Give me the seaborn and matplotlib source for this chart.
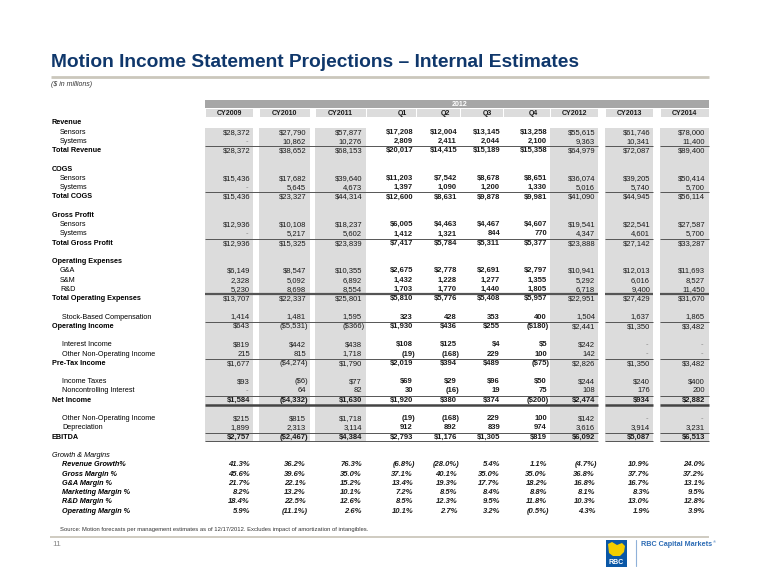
import matplotlib
matplotlib.use("Agg")
import matplotlib.pyplot as plt
from matplotlib.patches import Rectangle, Polygon
import seaborn as sns
import pandas as pd

# Column headers
columns = ["CY2009", "CY2010", "CY2011", "Q1", "Q2", "Q3", "Q4", "CY2012", "CY2013", "CY2014"]
year_group = "2012"

# Income statement values ($ in millions), None = "-"
rev_sensors = [28372, 27790, 57877, 17208, 12004, 13145, 13258, 55615, 61746, 78000]
rev_systems = [None, 10862, 10276, 2809, 2411, 2044, 2100, 9363, 10341, 11400]
rev_total = [28372, 38652, 68153, 20017, 14415, 15189, 15358, 64979, 72087, 89400]
cogs_sensors = [15436, 17682, 39640, 11203, 7542, 8678, 8651, 36074, 39205, 50414]
cogs_systems = [None, 5645, 4673, 1397, 1090, 1200, 1330, 5016, 5740, 5700]
cogs_total = [15436, 23327, 44314, 12600, 8631, 9878, 9981, 41090, 44945, 56114]
gp_sensors = [12936, 10108, 18237, 6005, 4463, 4467, 4607, 19541, 22541, 27587]
gp_systems = [None, 5217, 5602, 1412, 1321, 844, 770, 4347, 4601, 5700]
gp_total = [12936, 15325, 23839, 7417, 5784, 5311, 5377, 23888, 27142, 33287]
opex_ga = [6149, 8547, 10355, 2675, 2778, 2691, 2797, 10941, 12013, 11693]
opex_sm = [2328, 5092, 6892, 1432, 1228, 1277, 1355, 5292, 6016, 8527]
opex_rd = [5230, 8698, 8554, 1703, 1770, 1440, 1805, 6718, 9400, 11450]
opex_total = [13707, 22337, 25801, 5810, 5776, 5408, 5957, 22951, 27429, 31670]
stock_comp = [1414, 1481, 1595, 323, 428, 353, 400, 1504, 1637, 1865]
op_income = [643, -5531, -366, 1930, 436, 255, -180, 2441, 1350, 3482]
interest_income = [819, 442, 438, 108, 125, 4, 5, 242, None, None]
other_nonop = [215, 815, 1718, -19, -168, 229, 100, 142, None, None]
pretax_income = [1677, -4274, 1790, 2019, 394, 489, -75, 2826, 1350, 3482]
income_taxes = [93, -6, 77, 69, 29, 96, 50, 244, 240, 400]
noncontrolling = [None, 64, 82, 30, -16, 19, 75, 108, 176, 200]
net_income = [1584, -4332, 1630, 1920, 380, 374, -200, 2474, 934, 2882]
depreciation = [1899, 2313, 3114, 912, 892, 839, 974, 3616, 3914, 3231]
ebitda = [2757, -2467, 4384, 2793, 1176, 1305, 819, 6092, 5087, 6513]

# Growth & margins (%)
revenue_growth = [41.3, 36.2, 76.3, -6.8, -28.0, 5.4, 1.1, -4.7, 10.9, 24.0]
gross_margin = [45.6, 39.6, 35.0, 37.1, 40.1, 35.0, 35.0, 36.8, 37.7, 37.2]
ga_margin = [21.7, 22.1, 15.2, 13.4, 19.3, 17.7, 18.2, 16.8, 16.7, 13.1]
mkt_margin = [8.2, 13.2, 10.1, 7.2, 8.5, 8.4, 8.8, 8.1, 8.3, 9.5]
rd_margin = [18.4, 22.5, 12.6, 8.5, 12.3, 9.5, 11.8, 10.3, 13.0, 12.8]
op_margin = [5.9, -11.1, 2.6, 10.1, 2.7, 3.2, -0.5, 4.3, 1.9, 3.9]

title = "Motion Income Statement Projections \u2013 Internal Estimates"
subtitle = "($ in millions)"
source_note = ("Source: Motion forecasts per management estimates as of 12/17/2012. "
               "Excludes impact of amortization of intangibles.")
page_no = "11"

# rows: label, values, style, dollar sign
rows = [
    ("Revenue", None, "section", False),
    ("Sensors", rev_sensors, "sub", True),
    ("Systems", rev_systems, "sub", False),
    ("Total Revenue", rev_total, "total", True),
    (None, None, "blank", False),
    ("COGS", None, "section", False),
    ("Sensors", cogs_sensors, "sub", True),
    ("Systems", cogs_systems, "sub", False),
    ("Total COGS", cogs_total, "total", True),
    (None, None, "blank", False),
    ("Gross Profit", None, "section", False),
    ("Sensors", gp_sensors, "sub", True),
    ("Systems", gp_systems, "sub", False),
    ("Total Gross Profit", gp_total, "total", True),
    (None, None, "blank", False),
    ("Operating Expenses", None, "section", False),
    ("G&A", opex_ga, "sub", True),
    ("S&M", opex_sm, "sub", False),
    ("R&D", opex_rd, "sub", False),
    ("Total Operating Expenses", opex_total, "total2", True),
    (None, None, "blank", False),
    ("Stock-Based Compensation", stock_comp, "sub2", False),
    ("Operating Income", op_income, "total", True),
    (None, None, "blank", False),
    ("Interest Income", interest_income, "sub2", True),
    ("Other Non-Operating Income", other_nonop, "sub2", False),
    ("Pre-Tax Income", pretax_income, "total", True),
    (None, None, "blank", False),
    ("Income Taxes", income_taxes, "sub2", True),
    ("Noncontrolling Interest", noncontrolling, "sub2", False),
    ("Net Income", net_income, "net", True),
    (None, None, "blank", False),
    ("Other Non-Operating Income", other_nonop, "sub2",
     [True, True, True, False, False, False, False, True, True, True]),
    ("Depreciation", depreciation, "sub2", False),
    ("EBITDA", ebitda, "ebitda", True),
    (None, None, "blank", False),
    ("Growth & Margins", None, "ital_head", False),
    ("Revenue Growth%", revenue_growth, "pct", False),
    ("Gross Margin %", gross_margin, "pct", False),
    ("G&A Margin %", ga_margin, "pct", False),
    ("Marketing Margin %", mkt_margin, "pct", False),
    ("R&D Margin %", rd_margin, "pct", False),
    ("Operating Margin %", op_margin, "pct", False),
]
table = pd.DataFrame([r[1] if r[1] is not None else [None] * len(columns) for r in rows],
                     columns=columns)


def fmt(v, dollar, pct):
    if v is None or pd.isna(v):
        return "-"
    if pct:
        s = f"{abs(v):.1f}%"
    else:
        s = f"{abs(v):,.0f}"
        if dollar:
            s = "$" + s
    return f"({s})" if v < 0 else s


sns.set_theme(style="white")
plt.rcParams["font.family"] = ["Liberation Sans", "DejaVu Sans"]

fig = plt.figure(figsize=(7.6, 5.87), dpi=100)
ax = fig.add_axes([0, 0, 1, 1])
ax.set_xlim(0, 760)
ax.set_ylim(587, 0)
ax.axis("off")

navy = "#0f376b"
tan = "#cbc7bc"
shade = "#dcdcdc"
txt = "#1a1a1a"

# title block
ax.text(51, 67, title, fontsize=13.8, fontweight="bold", color=navy, va="baseline")
ax.plot([51, 709], [77, 77], color=tan, lw=2, solid_capstyle="butt")
ax.text(51, 85, subtitle, fontsize=5, style="italic", color="#333333", va="center")

# column geometry (pixel space)
cells = [(205, 253), (259, 310), (315, 366), (366, 416), (416, 460), (460, 503),
         (503, 550), (550, 598), (605, 653), (660, 709)]
shaded = [True, True, True, False, False, False, False, True, True, True]
label_x = [229, 284.5, 340.5, 402, 445, 487, 533, 574, 629, 684.5]
val_x = [250, 306, 362, 413, 457, 500, 547, 595, 650, 705]
line_segs = [(205, 598), (605, 653), (660, 709)]

y0, dy = 123, 9.24
ebitda_row = [i for i, r in enumerate(rows) if r[2] == "ebitda"][0]
body_top = y0 + 0.5 * dy
body_bot = y0 + (ebitda_row + 0.5) * dy

# header bars
ax.add_patch(Rectangle((205, 100), 504, 8, color="#a6a6a6", lw=0))
ax.text(460, 104.2, year_group, fontsize=5, color="white", fontweight="bold",
        ha="center", va="center")
for (l, r), lx, col in zip(cells, label_x, columns):
    ax.add_patch(Rectangle((l + 0.5, 108.8), r - l - 1, 8.6, color=shade, lw=0))
    ax.text(lx, 113.2, col, fontsize=5, fontweight="bold", color=txt,
            ha="center", va="center")

# shaded columns
for (l, r), s in zip(cells, shaded):
    if s:
        ax.add_patch(Rectangle((l, body_top), r - l, body_bot - body_top, color=shade, lw=0))


def hline(y, lw=0.7, color="#555555"):
    for a, b in line_segs:
        ax.plot([a, b], [y, y], color=color, lw=lw, solid_capstyle="butt")


indent = {"section": 52, "total": 52, "total2": 52, "net": 52, "ebitda": 52,
          "ital_head": 52, "sub": 60, "sub2": 62, "pct": 62}

for i, (label, vals, kind, dollar) in enumerate(rows):
    y = y0 + i * dy
    if kind == "blank":
        continue
    bold_label = kind in ("section", "total", "total2", "net", "ebitda")
    italic = kind in ("ital_head", "pct")
    ax.text(indent[kind], y, label, fontsize=5.2,
            fontweight="bold" if (bold_label or kind == "pct") else "normal",
            style="italic" if italic else "normal", color="black", va="center")
    if kind in ("total", "total2", "net", "ebitda"):
        hline(y - dy / 2, lw=1.6 if kind == "total2" else 0.7)
    if kind == "net":
        hline(y + dy / 2 + 0.6, lw=1.8, color="#444444")
    if kind == "ebitda":
        hline(y + dy / 2 - 0.3, lw=0.7)
    if vals is None:
        continue
    for j, col in enumerate(columns):
        v = table.loc[i, col]
        v = None if pd.isna(v) else float(v)
        d = dollar[j] if isinstance(dollar, list) else dollar
        s = fmt(v, d, kind == "pct")
        quarter = not shaded[j]
        bold = kind in ("net", "ebitda", "pct") or quarter
        x = val_x[j] + (2.2 if (v is not None and v < 0) else 0)
        if v is None:
            x = val_x[j] - 2
        ax.text(x, y, s, fontsize=5.5, ha="right", va="center",
                fontweight="bold" if bold else "normal",
                style="italic" if kind == "pct" else "normal",
                color="#888888" if v is None else txt)

# footer
ax.text(60, 530, source_note, fontsize=4.2, color="#333333", va="center")
ax.plot([50, 709], [536.5, 536.5], color=tan, lw=1.3, solid_capstyle="butt")
ax.text(52, 544, page_no, fontsize=6, color="#8c8c8c", va="center")

# RBC logo
ax.add_patch(Rectangle((606, 540), 21, 27, color="#0a57a6", lw=0))
ax.add_patch(Polygon([(608, 544), (612, 542), (617, 545), (622, 543), (625, 546),
                      (624, 552), (620, 556), (613, 556), (609, 553)],
                     closed=True, color="#f3cd00", lw=0))
ax.text(616.5, 562.5, "RBC", fontsize=5, fontweight="bold", color="white",
        ha="center", va="center")
ax.plot([636, 636], [540, 566], color="#8fb1d9", lw=0.8)
brand = ax.text(641, 545, "RBC Capital Markets", fontsize=5.2, fontweight="bold",
                color="#2d6cb5", va="center")
bb = brand.get_window_extent(renderer=fig.canvas.get_renderer())
fig.text((bb.x1 + 0.8) / fig.bbox.width, 1 - 542.5 / 587, "\u00ae",
         fontsize=3, color="#2d6cb5", va="center")

fig.savefig("out.png", dpi=100)
